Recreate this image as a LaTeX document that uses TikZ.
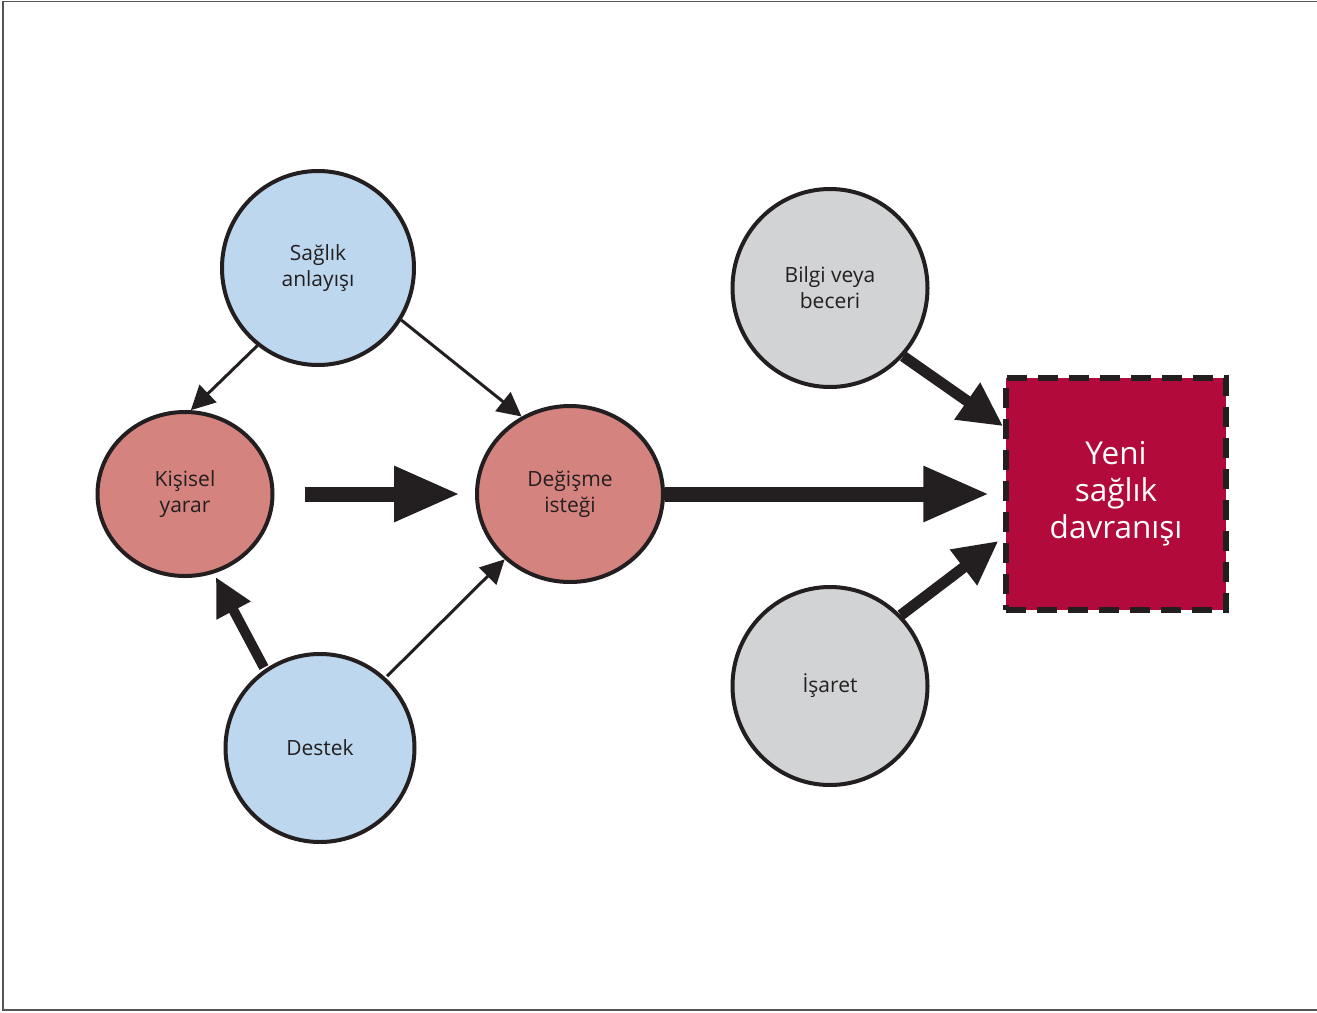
\documentclass[tikz,border=0pt]{standalone}
\usepackage{fontspec}
\setmainfont{Open Sans}
\usetikzlibrary{arrows.meta,shapes.geometric,calc}
\definecolor{cblue}{HTML}{BDD7EE}
\definecolor{csalmon}{HTML}{D5837F}
\definecolor{cgray}{HTML}{D1D3D4}
\definecolor{ccrimson}{HTML}{B20A3A}
\definecolor{cink}{HTML}{231F20}
\definecolor{cframe}{HTML}{555555}
\tikzset{
  bubble/.style={ellipse, draw=cink, line width=4pt, inner sep=0pt, align=center,
    font=\fontsize{21}{26}\selectfont, text=cink},
  target/.style={rectangle, fill=ccrimson, draw=cink, line width=5.5pt,
    dash pattern=on 20pt off 11pt, minimum width=220pt, minimum height=232pt,
    align=center, text=white, font=\fontsize{31.5}{37}\selectfont},
  thinarrow/.style={draw=cink, line width=3pt, -{Triangle[length=24pt,width=24pt]}},
  medarrow/.style={draw=cink, line width=10pt, -{Triangle[length=38pt,width=36pt]}},
  bigarrow/.style={draw=cink, line width=11pt, -{Triangle[length=44pt,width=42pt]}},
  blockarrow/.style={draw=cink, line width=15pt, -{Triangle[length=66pt,width=52pt]}},
}
\begin{document}
\begin{tikzpicture}[x=1pt,y=-1pt]
\useasboundingbox (0,0) rectangle (1317,1012);
\draw[cframe, line width=1.8pt] (1318,1.5) -- (3,1.5) -- (3,1010) -- (1318,1010);

\node[bubble, fill=cblue, minimum width=192pt, minimum height=194pt] (sag) at (318,268) {Sağlık\\anlayışı};
\node[bubble, fill=csalmon, minimum width=175pt, minimum height=164pt] (kis) at (185,494) {Kişisel\\yarar};
\node[bubble, fill=csalmon, minimum width=186pt, minimum height=176pt] (deg) at (570,494) {Değişme\\isteği};
\node[bubble, fill=cblue, minimum width=189pt, minimum height=188pt] (des) at (320,748) {Destek};
\node[bubble, fill=cgray, minimum width=195pt, minimum height=198pt] (bil) at (830,288) {Bilgi veya\\beceri};
\node[bubble, fill=cgray, minimum width=195pt, minimum height=198pt] (isa) at (830,686) {İşaret};
\node[target] (sq) at (1116,494) {Yeni\\sağlık\\davranışı};

\draw[thinarrow] (sag.232) -- (kis.86);
\draw[thinarrow] (sag.328) -- (deg.122);
\draw[thinarrow, shorten <=2pt] (des.47) -- (deg.225);
\draw[medarrow, shorten <=2pt, shorten >=4pt] (des.125) -- (kis.290);
\draw[bigarrow] (bil.317) -- (sq.149);
\draw[bigarrow, shorten >=6pt] (isa.45) -- (sq.201);
\draw[blockarrow, shorten <=30pt, shorten >=15pt] (kis.east) -- (deg.west);
\draw[blockarrow, shorten >=14pt] (deg.east) -- (sq.west);
\end{tikzpicture}
\end{document}
